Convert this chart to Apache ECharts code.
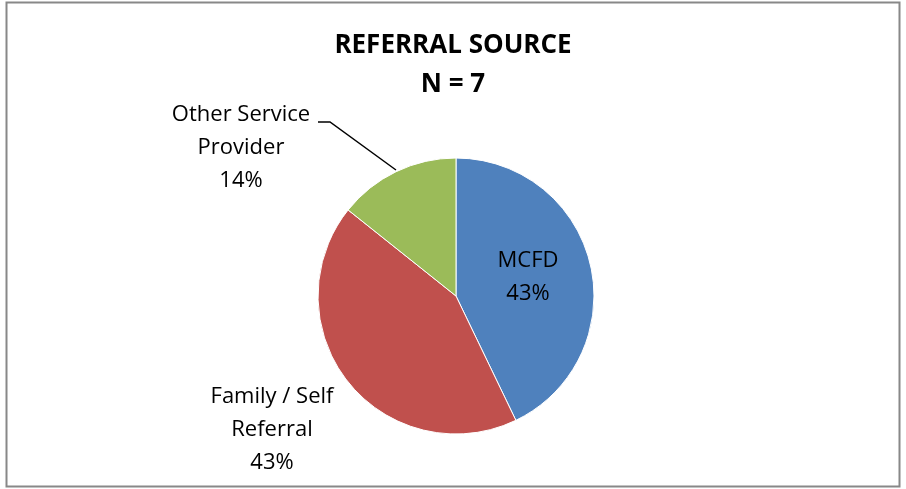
<!DOCTYPE html>
<html>
<head>
<meta charset="utf-8">
<script src="https://cdn.jsdelivr.net/npm/echarts@6/dist/echarts.min.js"></script>
<style>
  html, body { margin: 0; padding: 0; background: #fff; }
  #chart { width: 906px; height: 489px; }
</style>
</head>
<body>
<div id="chart"></div>
<script>
// referral counts, N = 7
const categories = ['MCFD', 'Family / Self\nReferral', 'Other Service\nProvider']
const counts = [3, 3, 1]
const colors = ['#4F81BD', '#C0504D', '#9BBB59']

const font = 'Open Sans'

const chart = echarts.init(document.getElementById('chart'))

// hand-placed label spots, like the original Excel chart
const labelSpots = [
  { x: 528, y: 277 },
  { x: 272, y: 430 },
  { x: 241, y: 148 }
]

chart.setOption({
  animation: false,
  title: {
    text: 'REFERRAL SOURCE\nN = 7',
    left: 'center',
    top: 21,
    textStyle: {
      fontFamily: font,
      fontSize: 26,
      fontWeight: 'bold',
      color: '#000',
      lineHeight: 39
    }
  },
  graphic: [{
    type: 'rect',
    shape: { x: 6.5, y: 2.5, width: 893, height: 484 },
    style: { fill: 'none', stroke: '#888', lineWidth: 2 },
    silent: true
  }],
  series: [{
    type: 'pie',
    center: [456, 296],
    radius: 138,
    startAngle: 90,
    clockwise: true,
    itemStyle: { borderColor: '#fff', borderWidth: 1 },
    label: {
      show: true,
      fontFamily: font,
      fontSize: 22,
      color: '#000',
      lineHeight: 33,
      align: 'center',
      formatter: p => p.name + '\n' + Math.round(p.percent) + '%'
    },
    labelLine: {
      show: true,
      lineStyle: { color: '#000', width: 1.5 }
    },
    labelLayout: p => {
      const s = labelSpots[p.dataIndex]
      const out = { x: s.x, y: s.y, align: 'center', verticalAlign: 'middle' }
      if (p.dataIndex === 2) {
        out.labelLinePoints = [[396, 170], [330, 122], [318, 122]]
      }
      return out
    },
    data: categories.map((c, i) => ({
      name: c,
      value: counts[i],
      itemStyle: { color: colors[i] },
      labelLine: { show: i === 2 }
    }))
  }]
})
</script>
</body>
</html>
